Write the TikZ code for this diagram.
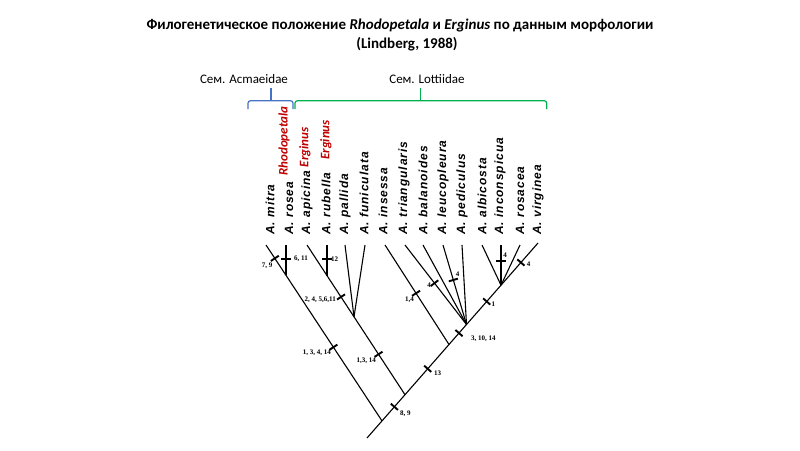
\documentclass[tikz,border=0pt]{standalone}
\usepackage{fontspec}
\setmainfont{Carlito}
\newfontfamily\spfont[LetterSpace=8]{Liberation Sans}
\newfontfamily\tkfont{Liberation Serif}
\usetikzlibrary{calc}
\definecolor{redsp}{RGB}{192,0,0}
\definecolor{bluebr}{RGB}{68,114,196}
\definecolor{greenbr}{RGB}{0,176,80}
\begin{document}
\begin{tikzpicture}[x=1pt,y=-1pt,
  branch/.style={line width=1.1pt, black},
  tk/.style={fill=black, inner sep=0pt, minimum width=1.9pt, minimum height=9.5pt, sloped, rectangle, draw=none},
  tklbl/.style={font=\tkfont\bfseries\fontsize{7}{8}\selectfont, inner sep=0pt},
  sp/.style={rotate=90, anchor=west, inner sep=0pt, font=\spfont\bfseries\itshape\fontsize{12}{13}\selectfont},
  redname/.style={rotate=90, anchor=west, inner sep=0pt, text=redsp, font=\bfseries\itshape\fontsize{13}{14}\selectfont},
  brace/.style={line width=1.2pt, rounded corners=2.5pt},
  famlbl/.style={anchor=base, inner sep=0pt, font=\fontsize{13}{15}\selectfont}
]
\fill[white] (0,0) rectangle (800,450);
\useasboundingbox (0,0) rectangle (800,450);

% title
\node[anchor=base, inner sep=0pt, font=\bfseries\fontsize{15}{18}\selectfont] (title1) at (400,29)
  {Филогенетическое положение \textit{Rhodopetala} и \textit{Erginus} по данным морфологии};
\node[anchor=base, inner sep=0pt, font=\bfseries\fontsize{15}{18}\selectfont] (title2) at (407,48)
  {(Lindberg, 1988)};

% families
\node[famlbl] (fam1) at (244,83.3) {Сем. Acmaeidae};
\node[famlbl] (fam2) at (427,83.3) {Сем. Lottiidae};
\draw[brace, bluebr] (248,109) -- (248,100.7) -- (293,100.7) -- (293,109);
\draw[line width=1.2pt, bluebr] (271,100.7) -- (271,88);
\draw[brace, greenbr] (295,109) -- (295,100.7) -- (546.7,100.7) -- (546.7,109);
\draw[line width=1.2pt, greenbr] (420.7,100.7) -- (420.7,88);

% species labels
\node[sp] (lmitra) at (270,235) {A. mitra};
\node[sp] (lrosea) at (289,235) {A. rosea};
\node[sp] (lapicina) at (307,235) {A. apicina};
\node[sp] (lrubella) at (326,235) {A. rubella};
\node[sp] (lpallida) at (345,235) {A. pallida};
\node[sp] (lfunic) at (364,235) {A. funiculata};
\node[sp] (linsessa) at (383,235) {A. insessa};
\node[sp] (ltriang) at (404,235) {A. triangularis};
\node[sp] (lbalan) at (423,235) {A. balanoides};
\node[sp] (lleuco) at (443,235) {A. leucopleura};
\node[sp] (lpedic) at (462,235) {A. pediculus};
\node[sp] (lalbic) at (482,235) {A. albicosta};
\node[sp] (lincon) at (500,235) {A. inconspicua};
\node[sp] (lrosac) at (520,235) {A. rosacea};
\node[sp] (lvirg) at (538,235) {A. virginea};
\node[redname] (rrhodo) at (284,176) {Rhodopetala};
\node[redname] (rerg1) at ($(lapicina.east)+(-2,-3)$) {Erginus};
\node[redname] (rerg2) at (326,160) {Erginus};

% tree coordinates
\coordinate (root) at (367,438);
\coordinate (V) at (538,243);
\coordinate (J1) at (382,420.9);
\coordinate (J2) at (405,394.7);
\coordinate (J3) at (449,344.5);
\coordinate (J4) at (466.5,324.5);
\coordinate (J5) at (501,285.2);
\coordinate (M) at (266,245);
\coordinate (R) at (286,245);
\coordinate (A) at (307,245);
\coordinate (Ru) at (327,245);
\coordinate (P) at (345,245);
\coordinate (F) at (365,245);
\coordinate (I) at (385,245);
\coordinate (T) at (405,245);
\coordinate (B) at (423,245);
\coordinate (L) at (443,245);
\coordinate (Pd) at (462,245);
\coordinate (Al) at (482,245);
\coordinate (In) at (501,245);
\coordinate (Ro) at (520,245);
\coordinate (Jr) at (286,275.3);
\coordinate (Jru) at (327,275.6);
\coordinate (Jpf) at (354,316.8);

% branches
\draw[branch] (root) -- (J1) -- (J2) -- (J3) -- (J4) -- (J5) -- (V);
\draw[branch] (M) -- (Jr) -- (J1);
\draw[branch] (R) -- (Jr);
\draw[branch] (A) -- (Jru) -- (Jpf) -- (J2);
\draw[branch] (Ru) -- (Jru);
\draw[branch] (P) -- (Jpf);
\draw[branch] (F) -- (Jpf);
\draw[branch] (I) -- (J3);
\draw[branch] (T) -- (J4);
\draw[branch] (B) -- (J4);
\draw[branch] (L) -- (J4);
\draw[branch] (Pd) -- (J4);
\draw[branch] (Al) -- (J5);
\draw[branch] (In) -- (J5);
\draw[branch] (Ro) -- (J5);

% ticks
\path (M) -- (J1) node[tk,pos=0.076] (t79) {} node[tk,pos=0.581] (t13414) {};
\path (R) -- (Jr) node[tk,pos=0.46] (t611) {};
\path (Ru) -- (Jru) node[tk,pos=0.46] (t12) {};
\path (A) -- (J2) node[tk,pos=0.347] (t245611) {} node[tk,pos=0.73] (t1314) {};
\path (root) -- (V) node[tk,pos=0.16] (t89) {} node[tk,pos=0.355] (t13) {}
  node[tk,pos=0.538] (t31014) {} node[tk,pos=0.70] (t1) {} node[tk,pos=0.90] (t4v) {};
\path (I) -- (J3) node[tk,pos=0.485] (t14) {};
\path (T) -- (J4) node[tk,pos=0.48] (t4t) {};
\path (L) -- (J4) node[tk,pos=0.44] (t4l) {};
\path (In) -- (J5) node[tk,pos=0.39] (t4i) {};

% tick labels
\node[tklbl] (n79) at (267,266) {7, 9};
\node[tklbl, anchor=west] (n611) at (294,259) {6, 11};
\node[tklbl, anchor=west] (n12) at (331,259.5) {12};
\node[tklbl, anchor=east] (n245611) at (336,300) {2, 4, 5,6,11};
\node[tklbl, anchor=east] (n13414) at (331,353) {1, 3, 4, 14};
\node[tklbl, anchor=east] (n1314) at (376,360.5) {1,3, 14};
\node[tklbl, anchor=west] (n89) at (400,414) {8, 9};
\node[tklbl, anchor=west] (n13) at (434,373) {13};
\node[tklbl, anchor=east] (n14) at (414,300) {1,4};
\node[tklbl, anchor=east] (n4t) at (431,285) {4};
\node[tklbl] (n4l) at (457.5,274) {4};
\node[tklbl, anchor=west] (n31014) at (471,339) {3, 10, 14};
\node[tklbl, anchor=west] (n1) at (491.5,304.5) {1};
\node[tklbl] (n4i) at (505,255) {4};
\node[tklbl] (n4v) at (528.5,264.5) {4};
\end{tikzpicture}
\end{document}
